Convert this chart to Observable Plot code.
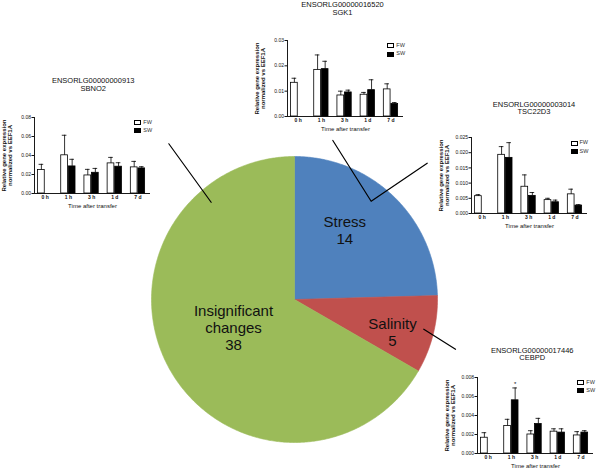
<!DOCTYPE html>
<html><head><meta charset="utf-8">
<script src="https://cdn.jsdelivr.net/npm/d3@7"></script>
<script src="https://cdn.jsdelivr.net/npm/@observablehq/plot@0.6"></script>
<style>
body{margin:0;background:#fff;}
#chart{position:relative;width:600px;height:469px;overflow:hidden;background:#fff;font-family:"Liberation Sans",Arial,sans-serif;}
.layer{position:absolute;}
.layer svg{display:block;}
.inset g[aria-label^="x-axis"] text{font-weight:bold;}
.lgbox{position:absolute;width:5px;height:3px;border:0.8px solid #000;}
.lgtxt{position:absolute;font-size:5.5px;line-height:6px;color:#333;}
</style></head><body><div id="chart"></div>
<script>
// ---- pie data ----
const pieCategories = ["Stress", "Salinity", "Insignificant changes"];
const pieCounts = [14, 5, 38];
const pieColors = ["#4F81BD", "#C0504D", "#9BBB59"];

// ---- inset data ----
const times = ["0 h", "1 h", "3 h", "1 d", "7 d"];
const seriesNames = ["FW", "SW"];

const sbno2FW      = [0.0247, 0.0402, 0.0190, 0.0317, 0.0275];
const sbno2FWUpper = [0.0307, 0.0613, 0.0254, 0.0380, 0.0338];
const sbno2SW      = [null,   0.0285, 0.0218, 0.0282, 0.0264];
const sbno2SWUpper = [null,   0.0360, 0.0264, 0.0324, 0.0282];

const sgk1FW       = [0.0133, 0.0184, 0.0083, 0.0086, 0.0107];
const sgk1FWUpper  = [0.0151, 0.0243, 0.0100, 0.0095, 0.0129];
const sgk1SW       = [null,   0.0187, 0.0095, 0.0104, 0.0049];
const sgk1SWUpper  = [null,   0.0218, 0.0104, 0.0145, 0.0055];

const tscFW        = [0.0057, 0.0193, 0.0088, 0.0044, 0.0063];
const tscFWUpper   = [0.0062, 0.0220, 0.0127, 0.0050, 0.0080];
const tscSW        = [null,   0.0183, 0.0058, 0.0037, 0.0026];
const tscSWUpper   = [null,   0.0233, 0.0069, 0.0044, 0.0029];

const cebpdFW      = [0.00166, 0.0029, 0.0020, 0.0023, 0.0019];
const cebpdFWUpper = [0.00219, 0.0036, 0.0024, 0.0026, 0.0023];
const cebpdSW      = [null,    0.0056, 0.0031, 0.0022, 0.0022];
const cebpdSWUpper = [null,    0.0069, 0.0037, 0.0026, 0.0024];
const cebpdSWSig   = ["", "*", "", "", ""];

const yTitle = "Relative gene expression\nnormalized vs EEF1A";
const xTitle = "Time after transfer";

const chart = document.getElementById("chart");

// ---- pie ----
const R = 143, CX = 294, CY = 299;
const arcs = d3.pie().sort(null).value(d => d)(pieCounts);
const slices = arcs.map((a, k) => {
  const pts = [{x: 0, y: 0}];
  const n = Math.max(4, Math.ceil((a.endAngle - a.startAngle) / 0.01));
  for (let j = 0; j <= n; j++) {
    const t = a.startAngle + (a.endAngle - a.startAngle) * j / n;
    pts.push({x: Math.sin(t), y: Math.cos(t)});
  }
  pts.push({x: 0, y: 0});
  return pts;
});
const labelNudge = [[-9.5, -8.2], [14.8, 11.5], [13.3, -14.9]];
const pieLabels = arcs.map((a, k) => {
  const m = (a.startAngle + a.endAngle) / 2;
  return {x: 0.6 * Math.sin(m), y: 0.6 * Math.cos(m),
          text: pieCategories[k].replace(" ", "\n") + "\n" + pieCounts[k]};
});
const leaders = [
  [[-0.879, 1.089], [-0.583, 0.680]],
  [[0.268, 1.112], [0.536, 0.687], [0.928, 0.953]],
  [[0.904, -0.208], [1.126, -0.348]]
];
const piePlot = Plot.plot({
  width: 600, height: 469, margin: 0,
  x: {domain: [-CX / R, (600 - CX) / R], axis: null},
  y: {domain: [-(469 - CY) / R, CY / R], axis: null},
  style: {background: "transparent", fontFamily: "'Liberation Sans',Arial,sans-serif"},
  marks: [
    ...slices.map((pts, k) => Plot.line(pts, {x: "x", y: "y", fill: pieColors[k], stroke: pieColors[k], strokeWidth: 0.6})),
    ...pieLabels.map((l, k) => Plot.text([l], {x: "x", y: "y", text: "text", fontSize: 15, lineHeight: 1.13, fill: "#111",
       dx: labelNudge[k][0], dy: labelNudge[k][1]})),
    ...leaders.map(L => Plot.line(L.map(([x, y]) => ({x, y})), {x: "x", y: "y", stroke: "#000", strokeWidth: 1.2}))
  ]
});
const pieLayer = document.createElement("div");
pieLayer.className = "layer";
pieLayer.style.left = "0px"; pieLayer.style.top = "0px";
pieLayer.appendChild(piePlot);
chart.appendChild(pieLayer);

// ---- insets ----
const W = 192, H = 136, mL = 36, mR = 40, mT = 44, mB = 16;
function makeInset(cfg) {
  const rows = [];
  times.forEach((t, i) => {
    if (cfg.fw[i] != null) rows.push({i, series: "FW", value: cfg.fw[i], upper: cfg.fwUpper[i], sig: ""});
    if (cfg.sw[i] != null) rows.push({i, series: "SW", value: cfg.sw[i], upper: cfg.swUpper[i], sig: cfg.sig ? cfg.sig[i] : ""});
  });
  const gap = 0.018, barW = 0.29;
  const lo = d => d.series === "FW" ? d.i - gap - barW : d.i + gap;
  const hi = d => d.series === "FW" ? d.i - gap : d.i + gap + barW;
  const mid = d => (lo(d) + hi(d)) / 2;
  const xDomain = [-0.46, 4.54];
  const plot = Plot.plot({
    width: W, height: H, marginLeft: mL, marginRight: mR, marginTop: mT, marginBottom: mB,
    style: {background: "transparent", fontFamily: "'Liberation Sans',Arial,sans-serif", fontSize: "5px", overflow: "visible", color: "#111"},
    x: {domain: xDomain, ticks: [0, 1, 2, 3, 4], tickFormat: i => times[i], tickSize: 0, tickPadding: 2, label: null},
    y: {domain: [0, cfg.yMax], ticks: cfg.yTicks, tickFormat: d3.format(cfg.fmt), tickSize: 2.5, tickPadding: 1, label: null},
    marks: [
      Plot.rectY(rows.filter(d => d.series === "FW"), {x1: lo, x2: hi, y: "value", fill: "#fff", stroke: "#000", strokeWidth: 0.8}),
      Plot.rectY(rows.filter(d => d.series === "SW"), {x1: lo, x2: hi, y: "value", fill: "#000", stroke: "#000", strokeWidth: 0.8}),
      Plot.ruleX(rows, {x: mid, y1: "value", y2: "upper", stroke: "#000", strokeWidth: 0.8}),
      Plot.ruleY(rows, {y: "upper", x1: d => mid(d) - 0.1, x2: d => mid(d) + 0.1, stroke: "#000", strokeWidth: 0.8}),
      Plot.text(rows.filter(d => d.sig), {x: mid, y: "upper", text: "sig", dy: -4, fontSize: 6}),
      Plot.ruleY([0], {stroke: "#000", strokeWidth: 0.9}),
      Plot.ruleX([xDomain[0]], {stroke: "#000", strokeWidth: 0.9}),
      Plot.text([cfg.gene], {frameAnchor: "top", dx: cfg.titleDx, dy: cfg.titleY, fontSize: 7.5, lineAnchor: "middle", fill: "#111"}),
      Plot.text([cfg.name], {frameAnchor: "top", dx: cfg.titleDx, dy: cfg.titleY + 7.5, fontSize: 7.5, lineAnchor: "middle", fill: "#111"}),
      Plot.text([yTitle], {frameAnchor: "left", textAnchor: "middle", lineAnchor: "middle", rotate: -90, dx: -27, fontSize: 6, fontWeight: "bold", lineHeight: 1, fill: "#111"}),
      Plot.text([xTitle], {frameAnchor: "bottom", lineAnchor: "middle", dy: 12.3, fontSize: 6, fill: "#111"})
    ]
  });
  const wrap = document.createElement("div");
  wrap.className = "layer inset";
  wrap.style.left = (cfg.x0 - mL) + "px";
  wrap.style.top = (cfg.y0 - mT) + "px";
  wrap.style.width = W + "px"; wrap.style.height = H + "px";
  wrap.appendChild(plot);
  seriesNames.forEach((s, k) => {
    const b = document.createElement("div");
    b.className = "lgbox";
    b.style.left = (mL + 100) + "px";
    b.style.top = (mT + 3.3 + k * 8.3) + "px";
    b.style.background = s === "FW" ? "#fff" : "#000";
    wrap.appendChild(b);
    const t = document.createElement("div");
    t.className = "lgtxt";
    t.textContent = s;
    t.style.left = (mL + 109) + "px";
    t.style.top = (mT + 2 + k * 8.3) + "px";
    wrap.appendChild(t);
  });
  chart.appendChild(wrap);
}

makeInset({gene: "ENSORLG00000000913", name: "SBNO2", x0: 34.3, y0: 116.7, titleY: -36.7, titleDx: 0.7,
  yMax: 0.08, yTicks: [0, 0.02, 0.04, 0.06, 0.08], fmt: ".2f",
  fw: sbno2FW, fwUpper: sbno2FWUpper, sw: sbno2SW, swUpper: sbno2SWUpper});
makeInset({gene: "ENSORLG00000016520", name: "SGK1", x0: 287.3, y0: 40, titleY: -35.8, titleDx: -3,
  yMax: 0.03, yTicks: [0, 0.01, 0.02, 0.03], fmt: ".2f",
  fw: sgk1FW, fwUpper: sgk1FWUpper, sw: sgk1SW, swUpper: sgk1SWUpper});
makeInset({gene: "ENSORLG00000003014", name: "TSC22D3", x0: 470.5, y0: 137.3, titleY: -33, titleDx: 4.5,
  yMax: 0.025, yTicks: [0, 0.005, 0.01, 0.015, 0.02, 0.025], fmt: ".3f",
  fw: tscFW, fwUpper: tscFWUpper, sw: tscSW, swUpper: tscSWUpper});
makeInset({gene: "ENSORLG00000017446", name: "CEBPD", x0: 477.3, y0: 376.7, titleY: -27.4, titleDx: -3.3,
  yMax: 0.008, yTicks: [0, 0.002, 0.004, 0.006, 0.008], fmt: ".3f",
  fw: cebpdFW, fwUpper: cebpdFWUpper, sw: cebpdSW, swUpper: cebpdSWUpper, sig: cebpdSWSig});
</script></body></html>
